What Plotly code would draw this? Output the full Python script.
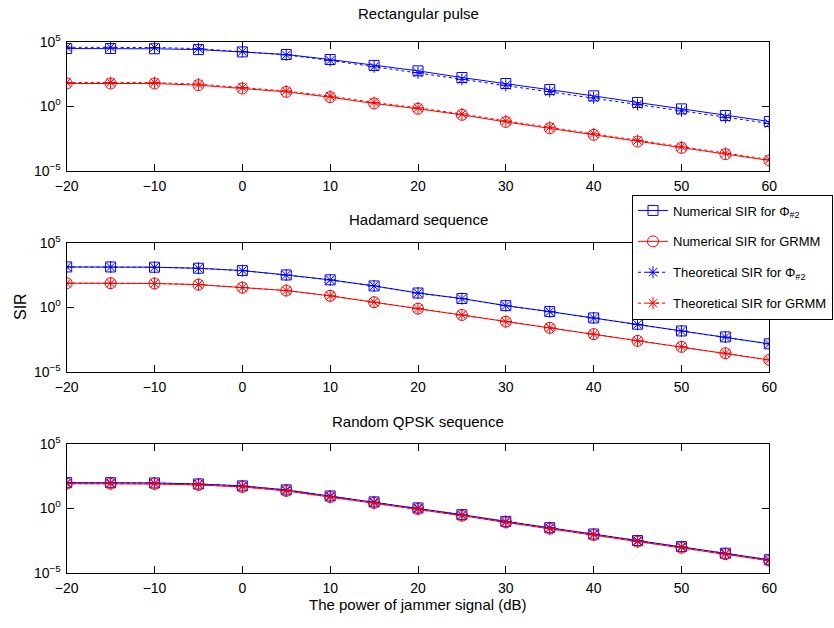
import plotly.graph_objects as go

# ---------------- data ----------------
jammer_db = [-20, -15, -10, -5, 0, 5, 10, 15, 20, 25, 30, 35, 40, 45, 50, 55, 60]

# Rectangular pulse
rect_num_phi = [2.95e4, 2.95e4, 2.82e4, 2.45e4, 1.62e4, 1.02e4, 4.17e3, 1.45e3, 5.5e2, 1.66e2, 57.5, 19.5, 6.3, 1.95, 0.62, 0.19, 0.065]
rect_num_grmm = [57.5, 57.5, 57.5, 42.7, 23.4, 12.9, 5.0, 1.62, 0.63, 0.214, 0.060, 0.0195, 6.0e-3, 1.82e-3, 5.9e-4, 1.9e-4, 6.2e-5]
rect_th_phi = [3.7e4, 3.7e4, 3.55e4, 2.9e4, 1.74e4, 9.5e3, 3.55e3, 1.15e3, 4.0e2, 1.2e2, 41.7, 13.8, 4.47, 1.38, 0.44, 0.135, 0.046]
rect_th_grmm = [69.0, 69.0, 67.6, 51.3, 28.2, 15.1, 6.0, 1.95, 0.75, 0.25, 0.072, 0.0234, 7.2e-3, 2.2e-3, 7.1e-4, 2.3e-4, 7.4e-5]

# Hadamard sequence
had_num_phi = [1.32e3, 1.32e3, 1.26e3, 1.05e3, 6.9e2, 3.16e2, 1.32e2, 44.7, 12.6, 4.7, 1.32, 0.457, 0.148, 0.048, 0.0145, 5.0e-3, 1.45e-3]
had_num_grmm = [72.4, 72.4, 69.2, 56.2, 33.1, 19.5, 7.6, 2.45, 0.776, 0.251, 0.0759, 0.0251, 8.1e-3, 2.45e-3, 8.5e-4, 2.7e-4, 8.1e-5]
had_th_phi = [1.30e3, 1.30e3, 1.24e3, 1.03e3, 6.8e2, 3.1e2, 1.30e2, 44.0, 12.4, 4.6, 1.30, 0.45, 0.146, 0.047, 0.0143, 4.9e-3, 1.43e-3]
had_th_grmm = [73.0, 73.0, 70.0, 57.0, 33.5, 19.8, 7.7, 2.48, 0.785, 0.254, 0.0768, 0.0254, 8.2e-3, 2.48e-3, 8.6e-4, 2.73e-4, 8.2e-5]

# Random QPSK sequence
qpsk_num_phi = [95.5, 95.5, 91.2, 75.9, 53.7, 26.3, 8.9, 3.09, 1.05, 0.316, 0.0955, 0.0309, 0.0100, 3.09e-3, 1.05e-3, 3.24e-4, 1.02e-4]
qpsk_num_grmm = [79.4, 79.4, 75.9, 63.1, 44.7, 21.9, 7.4, 2.57, 0.87, 0.263, 0.0794, 0.0257, 8.3e-3, 2.57e-3, 8.7e-4, 2.7e-4, 8.5e-5]
qpsk_th_phi = [93.0, 93.0, 89.0, 74.0, 52.5, 25.7, 8.7, 3.02, 1.02, 0.309, 0.0933, 0.0302, 9.8e-3, 3.02e-3, 1.02e-3, 3.17e-4, 1.0e-4]
qpsk_th_grmm = [81.0, 81.0, 77.5, 64.5, 45.7, 22.4, 7.55, 2.63, 0.89, 0.269, 0.0812, 0.0263, 8.5e-3, 2.63e-3, 8.9e-4, 2.76e-4, 8.7e-5]

panel_titles = ["Rectangular pulse", "Hadamard sequence", "Random QPSK sequence"]
legend_names = ["Numerical SIR for Φ<sub>#2</sub>", "Numerical SIR for GRMM",
                "Theoretical SIR for Φ<sub>#2</sub>", "Theoretical SIR for GRMM"]
x_ticks = [-20, -10, 0, 10, 20, 30, 40, 50, 60]
y_ticks = [1e-5, 1e0, 1e5]
y_tick_text = ["10<sup>−5</sup>", "10<sup>0</sup>", "10<sup>5</sup>"]

panels = [
    (rect_num_phi, rect_num_grmm, rect_th_phi, rect_th_grmm),
    (had_num_phi, had_num_grmm, had_th_phi, had_th_grmm),
    (qpsk_num_phi, qpsk_num_grmm, qpsk_th_phi, qpsk_th_grmm),
]

# ---------------- layout geometry ----------------
W, H = 834, 628
x_dom = [66.7 / W, 769.3 / W]
y_doms = [
    [1 - 170.7 / H, 1 - 41.7 / H],
    [1 - 371.7 / H, 1 - 242.7 / H],
    [1 - 572.7 / H, 1 - 443.7 / H],
]
title_y_px = [14, 219, 421]

FONT = "Liberation Sans, Arial, sans-serif"
BLUE = "#0000ff"
RED = "#ff0000"

styles = [
    dict(color=BLUE, dash="solid", symbol="square-open", size=10),
    dict(color=RED, dash="solid", symbol="circle-open", size=11),
    dict(color=BLUE, dash="dot", symbol="asterisk-open", size=10),
    dict(color=RED, dash="dot", symbol="asterisk-open", size=10),
]

fig = go.Figure()

for i, series in enumerate(panels):
    xa = "x" if i == 0 else f"x{i+1}"
    ya = "y" if i == 0 else f"y{i+1}"
    for j, (vals, st) in enumerate(zip(series, styles)):
        fig.add_trace(go.Scatter(
            x=jammer_db, y=vals, xaxis=xa, yaxis=ya,
            mode="lines+markers",
            name=legend_names[j],
            legendgroup=f"g{j}",
            showlegend=(i == 0),
            line=dict(color=st["color"], width=1, dash=st["dash"]),
            marker=dict(symbol=st["symbol"], size=st["size"], color=st["color"],
                        line=dict(color=st["color"], width=1)),
        ))

axis_common = dict(
    showline=True, linecolor="black", linewidth=1.3, mirror="ticks",
    ticks="inside", ticklen=7, tickwidth=1, tickcolor="black",
    showgrid=False, zeroline=False, automargin=False,
    tickfont=dict(family=FONT, size=14, color="black"),
)

layout_axes = {}
for i in range(3):
    xk = "xaxis" if i == 0 else f"xaxis{i+1}"
    yk = "yaxis" if i == 0 else f"yaxis{i+1}"
    ya = "y" if i == 0 else f"y{i+1}"
    xa = "x" if i == 0 else f"x{i+1}"
    layout_axes[xk] = dict(axis_common, domain=x_dom, anchor=ya, range=[-20, 60],
                           tickvals=x_ticks, ticklabelstandoff=2)
    layout_axes[yk] = dict(axis_common, domain=y_doms[i], anchor=xa, type="log",
                           range=[-5, 5], tickvals=y_ticks, ticktext=y_tick_text,
                           ticklabelstandoff=2)

annotations = []
for t, ypx in zip(panel_titles, title_y_px):
    annotations.append(dict(
        text=t, xref="paper", yref="paper", x=(x_dom[0] + x_dom[1]) / 2, y=1 - ypx / H,
        showarrow=False, xanchor="center", yanchor="middle",
        font=dict(family=FONT, size=15, color="black"),
    ))
annotations.append(dict(
    text="SIR", xref="paper", yref="paper", x=20 / W, y=1 - 307 / H,
    showarrow=False, textangle=-90, xanchor="center", yanchor="middle",
    font=dict(family=FONT, size=16, color="black"),
))
annotations.append(dict(
    text="The power of jammer signal (dB)", xref="paper", yref="paper",
    x=(x_dom[0] + x_dom[1]) / 2, y=1 - 604 / H,
    showarrow=False, xanchor="center", yanchor="middle",
    font=dict(family=FONT, size=15, color="black"),
))

fig.update_layout(
    width=W, height=H,
    margin=dict(l=0, r=0, t=0, b=0, autoexpand=False),
    paper_bgcolor="white", plot_bgcolor="white",
    showlegend=True,
    legend=dict(
        x=632 / W, y=1 - 194.5 / H, xanchor="left", yanchor="top",
        bgcolor="white", bordercolor="black", borderwidth=1,
        font=dict(family=FONT, size=13, color="black"),
        itemwidth=30, tracegroupgap=11,
    ),
    annotations=annotations,
    **layout_axes,
)

fig.write_html(
    "out.html",
    config={"displayModeBar": False},
    post_script="document.body.style.margin='0px';document.body.style.overflow='hidden';",
)
